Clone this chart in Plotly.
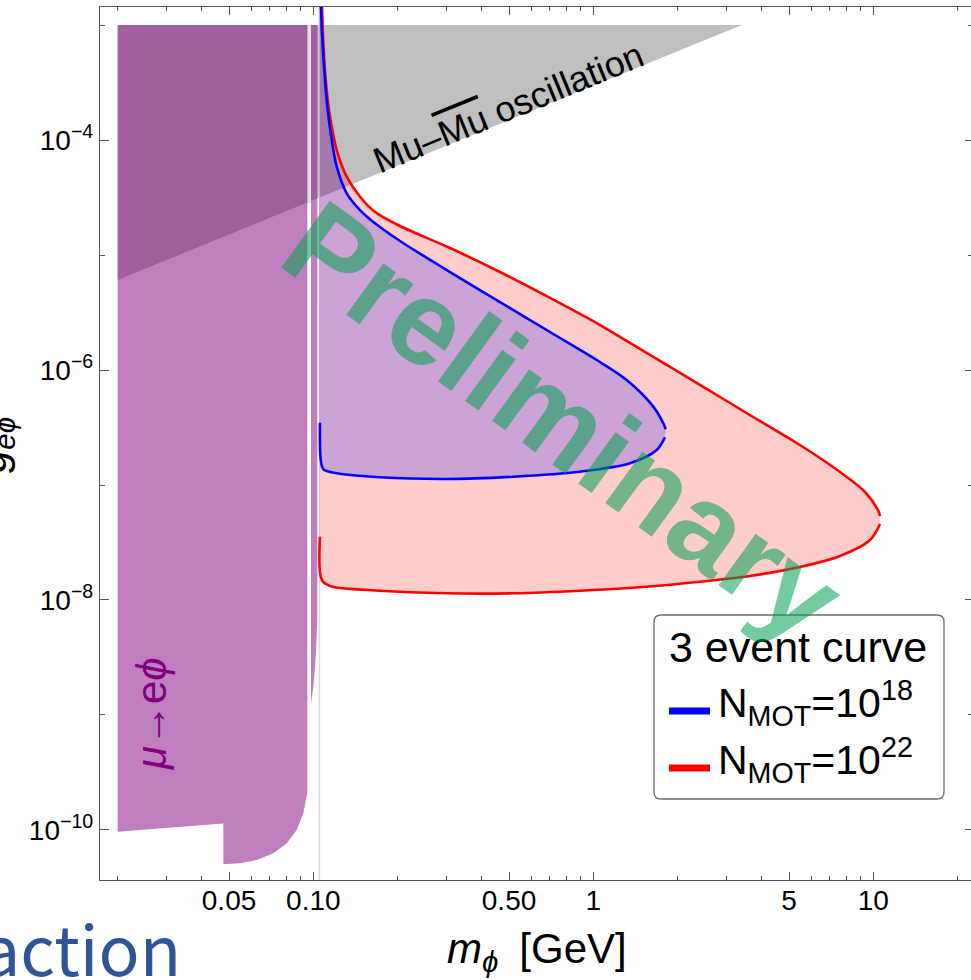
import math
import plotly.graph_objects as go

# ---------------- data ----------------
# axis ranges
X_MIN, X_MAX = 0.01730, 22.33
Y_MIN, Y_MAX = 3.674e-11, 1.434e-3

# x ticks
x_major = [0.05, 0.1, 0.5, 1, 5, 10]
x_major_text = ["0.05", "0.10", "0.50", "1", "5", "10"]
x_minor = [0.02, 0.03, 0.04, 0.06, 0.07, 0.08, 0.09, 0.2, 0.3, 0.4, 0.6, 0.7, 0.8, 0.9,
           2, 3, 4, 6, 7, 8, 9, 20]
# y ticks
y_major = [1e-4, 1e-6, 1e-8, 1e-10]
y_major_text = ["10<sup>\u22124</sup>", "10<sup>\u22126</sup>", "10<sup>\u22128</sup>", "10<sup>\u221210</sup>"]
y_minor = [1e-3, 1e-5, 1e-7, 1e-9]

# mu -> e phi excluded region
purple_x = [0.0200, 0.0952, 0.0952, 0.0921, 0.0872, 0.0804, 0.0720, 0.0628, 0.0547, 0.0477, 0.0477, 0.0200]
purple_y = [1e-3, 1e-3, 2.10e-10, 1.40e-10, 1.0e-10, 7.66e-11, 6.27e-11, 5.48e-11, 5.13e-11, 5.03e-11, 1.14e-10, 9.66e-11]
sliver_x = [0.0981, 0.1035, 0.1033, 0.1022, 0.1000, 0.0987, 0.0981]
sliver_y = [1e-3, 1e-3, 6.70e-9, 3.46e-9, 1.75e-9, 1.27e-9, 1.27e-9]

# Mu - anti-Mu oscillation region
tri_x = [0.0200, 3.39, 0.0200]
tri_y = [1e-3, 1e-3, 6.06e-6]

# vertical lines
gap_x = 0.0967
gap_y = [1e-3, 2.81e-5]
m_line_x = 0.1051

# 3 event curves, N_MOT = 1e18 (blue)
bu_x = [0.1063, 0.1074, 0.1092, 0.1116, 0.1154, 0.1212, 0.1316, 0.1468, 0.1661, 0.2040, 0.3078,
        0.4643, 0.7005, 1.0566, 1.316, 1.638, 1.778, 1.814]
bu_y = [1.65e-3, 8.47e-4, 4.34e-4, 2.227e-4, 1.144e-4, 5.86e-5, 3.44e-5, 2.461e-5, 1.887e-5, 1.323e-5,
        7.11e-6, 3.90e-6, 2.140e-6, 1.174e-6, 8.18e-7, 4.80e-7, 3.44e-7, 3.05e-7]
bl_x = [1.803, 1.684, 1.352, 0.8963, 0.5179, 0.2995, 0.1731, 0.1212, 0.1086, 0.1063, 0.1056]
bl_y = [2.60e-7, 2.015e-7, 1.544e-7, 1.305e-7, 1.181e-7, 1.128e-7, 1.167e-7, 1.264e-7, 1.369e-7,
        1.650e-7, 3.48e-7]

# N_MOT = 1e22 (red)
ru_x = [0.1072, 0.1086, 0.1110, 0.1147, 0.1212, 0.1316, 0.1468, 0.1661, 0.2040, 0.3078, 0.4643,
        0.7005, 1.0566, 1.594, 2.405, 3.627, 5.472, 7.605, 9.341, 10.39, 10.57]
ru_y = [1.65e-3, 6.93e-4, 3.11e-4, 1.594e-4, 8.18e-5, 4.80e-5, 3.21e-5, 2.365e-5, 1.788e-5, 1.150e-5,
        7.11e-6, 4.23e-6, 2.461e-6, 1.351e-6, 7.41e-7, 4.06e-7, 2.227e-7, 1.297e-7, 8.69e-8, 6.06e-8, 5.37e-8]
rl_x = [10.57, 9.732, 7.605, 5.472, 3.627, 2.405, 1.551, 0.8963, 0.5179, 0.2995, 0.1731, 0.1147, 0.1072, 0.1056]
rl_y = [4.58e-8, 3.32e-8, 2.413e-8, 1.936e-8, 1.617e-8, 1.442e-8, 1.305e-8, 1.204e-8, 1.144e-8,
        1.144e-8, 1.204e-8, 1.323e-8, 1.493e-8, 3.55e-8]

legend_title = "3 event curve"
legend_labels = ["N<sub>MOT</sub>=10<sup>18</sup>", "N<sub>MOT</sub>=10<sup>22</sup>"]

# ---------------- styles ----------------
FONT = "Liberation Sans, Arial, sans-serif"
GRAY = "rgb(191,191,191)"
PURPLE_FILL = "rgba(128,0,128,0.5)"
AXIS_COL = "rgb(85,85,85)"

fig = go.Figure()


def poly(x, y, color):
    fig.add_trace(go.Scatter(x=x, y=y, mode="lines", fill="toself", fillcolor=color,
                             line=dict(width=0, color=color), hoverinfo="skip", showlegend=False))


poly(tri_x, tri_y, GRAY)
fig.add_trace(go.Scatter(x=[gap_x, gap_x], y=gap_y, mode="lines",
                         line=dict(color="rgb(226,226,226)", width=3.7), hoverinfo="skip", showlegend=False))
poly(purple_x, purple_y, PURPLE_FILL)
poly(sliver_x, sliver_y, PURPLE_FILL)
fig.add_trace(go.Scatter(x=[m_line_x, m_line_x], y=[Y_MIN, Y_MAX], mode="lines",
                         line=dict(color="rgb(218,218,218)", width=1.5), hoverinfo="skip", showlegend=False))

# filled regions of the curves
poly(ru_x + rl_x + [m_line_x, m_line_x], ru_y + rl_y + [rl_y[-1], ru_y[0]], "rgba(255,0,0,0.2)")
poly(bu_x + bl_x + [m_line_x, m_line_x], bu_y + bl_y + [bl_y[-1], bu_y[0]], "rgba(0,0,255,0.2)")

for xs, ys, col in [(ru_x, ru_y, "rgb(255,0,0)"), (rl_x, rl_y, "rgb(255,0,0)"),
                    (bu_x, bu_y, "rgb(0,0,255)"), (bl_x, bl_y, "rgb(0,0,255)")]:
    fig.add_trace(go.Scatter(x=xs, y=ys, mode="lines",
                             line=dict(color=col, width=2.6, shape="spline", smoothing=0.9),
                             hoverinfo="skip", showlegend=False))

# helper trace for right-hand tick axis
fig.add_trace(go.Scatter(x=[], y=[], yaxis="y2", showlegend=False, hoverinfo="skip"))

lx = [math.log10(X_MIN), math.log10(X_MAX)]
ly = [math.log10(Y_MIN), math.log10(Y_MAX)]

fig.update_layout(
    width=971, height=980,
    margin=dict(l=100, r=0, t=7, b=100, autoexpand=False),
    paper_bgcolor="white", plot_bgcolor="white",
    showlegend=False,
    font=dict(family=FONT, color="black"),
    xaxis=dict(type="log", range=lx, showgrid=False, zeroline=False,
               showline=True, linecolor=AXIS_COL, linewidth=1.3, mirror="ticks",
               ticks="inside", ticklen=8, tickwidth=1.2, tickcolor=AXIS_COL,
               tickmode="array", tickvals=x_major, ticktext=x_major_text,
               ticklabelstandoff=-5,
               tickfont=dict(size=28, family=FONT, color="black"),
               minor=dict(tickmode="array", tickvals=x_minor, ticks="inside", ticklen=4,
                          tickwidth=1, tickcolor=AXIS_COL, showgrid=False)),
    yaxis=dict(type="log", range=ly, showgrid=False, zeroline=False,
               showline=True, linecolor=AXIS_COL, linewidth=1.3,
               ticks="inside", ticklen=9, tickwidth=1.2, tickcolor=AXIS_COL,
               tickmode="array", tickvals=y_major, ticktext=y_major_text,
               tickfont=dict(size=28, family=FONT, color="black"),
               minor=dict(tickmode="array", tickvals=y_minor, ticks="inside", ticklen=5,
                          tickwidth=1, tickcolor=AXIS_COL, showgrid=False)),
    yaxis2=dict(type="log", range=ly, overlaying="y", side="right", showgrid=False, zeroline=False,
                showline=False, ticks="inside", ticklen=6, tickwidth=1, tickcolor=AXIS_COL,
                tickmode="array", tickvals=y_major, showticklabels=False,
                minor=dict(tickmode="array", tickvals=y_minor, ticks="inside", ticklen=3,
                           tickwidth=1, tickcolor=AXIS_COL)),
)


def px2paper(px, py):
    return (px - 100) / 871, (880 - py) / 873


# legend box
bx0, by0 = px2paper(654, 799)
bx1, by1 = px2paper(944, 615)
rx, ry = 7 / 871, 7 / 873
path = (f"M {bx0+rx},{by0} L {bx1-rx},{by0} Q {bx1},{by0} {bx1},{by0+ry} "
        f"L {bx1},{by1-ry} Q {bx1},{by1} {bx1-rx},{by1} L {bx0+rx},{by1} "
        f"Q {bx0},{by1} {bx0},{by1-ry} L {bx0},{by0+ry} Q {bx0},{by0} {bx0+rx},{by0} Z")
fig.add_shape(type="path", path=path, xref="paper", yref="paper",
              fillcolor="white", line=dict(color="rgb(110,110,110)", width=1.3), layer="above")
for col, py in [("rgb(0,0,255)", 711), ("rgb(255,0,0)", 768)]:
    x0, y0 = px2paper(669, py)
    x1, _ = px2paper(710, py)
    fig.add_shape(type="line", x0=x0, x1=x1, y0=y0, y1=y0, xref="paper", yref="paper",
                  line=dict(color=col, width=7), layer="above")

ann = []
tx, ty = px2paper(798, 647)
ann.append(dict(x=tx, y=ty, text=legend_title, font=dict(size=43, family=FONT, color="black")))
for lab, py in zip(legend_labels, [703, 760]):
    tx, ty = px2paper(716, py)
    ann.append(dict(x=tx, y=ty, xanchor="left", text=lab, font=dict(size=41, family=FONT, color="black")))

# region labels
tx, ty = px2paper(508, 107)
ann.append(dict(x=tx, y=ty, textangle=-22.3,
                text="Mu\u2013<span style='text-decoration:overline'>Mu</span> oscillation",
                font=dict(size=36, family=FONT, color="black")))
tx, ty = px2paper(151, 714)
ann.append(dict(x=tx, y=ty, textangle=-90, text="<i>\u03bc</i>\u2192e<i>\u03d5</i>",
                font=dict(size=42, family=FONT, color="rgb(128,0,128)")))

# axis titles
tx, ty = px2paper(537, 952)
ann.append(dict(x=tx, y=ty, text="<i>m</i><sub><i>\u03d5</i></sub>\u2002[GeV]",
                font=dict(size=42, family=FONT, color="black")))
tx, ty = px2paper(-6, 445)
ann.append(dict(x=tx, y=ty, textangle=-90, text="<i>g</i><sub><i>e\u03d5</i></sub>",
                font=dict(size=42, family=FONT, color="black")))

# slide text behind
tx, ty = px2paper(183, 946)
ann.append(dict(x=tx, y=ty, xanchor="right", text="action",
                font=dict(size=68, family="Noto Sans CJK JP", color="rgb(47,85,151)")))

# watermark
tx, ty = px2paper(564, 421)
ann.append(dict(x=tx, y=ty, textangle=36, text="<b>Preliminary</b>",
                font=dict(size=120, family=FONT, color="rgba(0,160,80,0.55)")))

for a in ann:
    a.setdefault("xref", "paper")
    a.setdefault("yref", "paper")
    a.setdefault("xanchor", "center")
    a.setdefault("yanchor", "middle")
    a.setdefault("showarrow", False)
    fig.add_annotation(**a)

fig.write_html("out.html")
